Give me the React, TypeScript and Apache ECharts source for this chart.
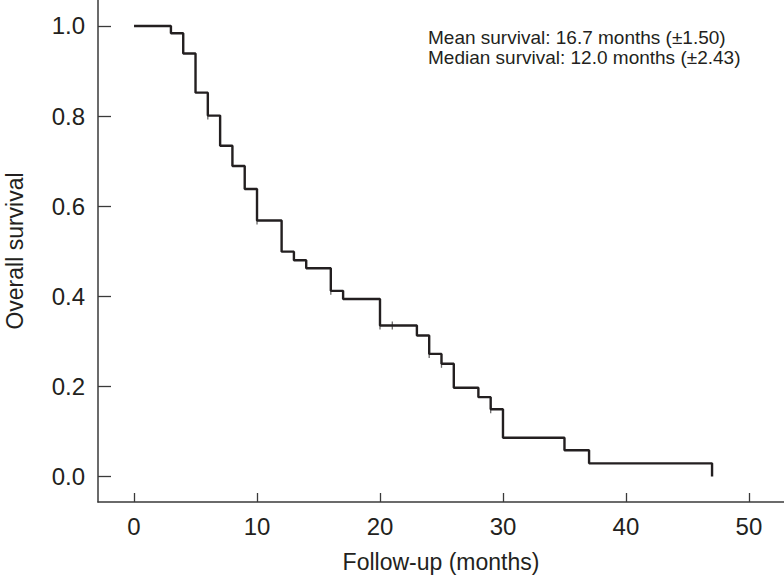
import React, { useEffect, useRef } from "react";
import * as echarts from "echarts";

const times = [0, 3, 4, 5, 6, 7, 8, 9, 10, 12, 13, 14, 16, 17, 20, 23, 24, 25, 26, 28, 29, 30, 35, 37, 47];
const survival = [1.0, 0.984, 0.939, 0.852, 0.801, 0.734, 0.689, 0.638, 0.568, 0.499, 0.48, 0.462, 0.412, 0.394, 0.335, 0.313, 0.272, 0.25, 0.197, 0.176, 0.149, 0.086, 0.058, 0.029, 0.0];
const censorTimes = [6, 10, 16, 20, 21, 24, 25, 29];
const censorValues = [0.801, 0.568, 0.412, 0.335, 0.335, 0.272, 0.25, 0.149];
const xTicks = [0, 10, 20, 30, 40, 50];
const yTicks = [0, 0.2, 0.4, 0.6, 0.8, 1.0];
const annotations = ["Mean survival: 16.7 months (\u00b11.50)", "Median survival: 12.0 months (\u00b12.43)"];

const FONT = "'Liberation Sans', Arial, sans-serif";
const INK = "#231f20";

export default function App() {
  const ref = useRef<HTMLDivElement>(null);
  useEffect(() => {
    if (!ref.current) return;
    const chart = echarts.init(ref.current, undefined, { renderer: "svg" });
    chart.setOption({
      animation: false,
      backgroundColor: "#ffffff",
      grid: { left: 98, right: 0, top: 0, bottom: 80, containLabel: false, outerBoundsMode: "none" },
      xAxis: {
        type: "value",
        min: -2.93,
        max: 52.85,
        name: "Follow-up (months)",
        nameLocation: "middle",
        nameGap: 48,
        nameTextStyle: { fontFamily: FONT, fontSize: 23, color: INK },
        axisLine: { show: true, onZero: false, lineStyle: { color: "#3a3a3a", width: 1.5 } },
        axisTick: { show: true, inside: true, length: 9, customValues: xTicks, lineStyle: { color: "#3a3a3a", width: 1.3 } },
        axisLabel: { customValues: xTicks, margin: 12, fontFamily: FONT, fontSize: 24, color: INK },
        splitLine: { show: false },
      },
      yAxis: {
        type: "value",
        min: -0.0568,
        max: 1.0577,
        name: "Overall survival",
        nameLocation: "middle",
        nameGap: 72,
        nameTextStyle: { fontFamily: FONT, fontSize: 23, color: INK },
        axisLine: { show: true, onZero: false, lineStyle: { color: "#3a3a3a", width: 1.5 } },
        axisTick: { show: true, inside: true, length: 13, customValues: yTicks, lineStyle: { color: "#3a3a3a", width: 1.3 } },
        axisLabel: {
          customValues: yTicks,
          margin: 13,
          fontFamily: FONT,
          fontSize: 24,
          color: INK,
          formatter: (v: number) => v.toFixed(1),
        },
        splitLine: { show: false },
      },
      graphic: annotations.map((t, i) => ({
        type: "text",
        left: 428,
        top: 28 + i * 20,
        style: { text: t, fontFamily: FONT, fontSize: 19, fill: INK },
      })),
      series: [
        {
          type: "line",
          step: "end",
          data: times.map((t, i) => [t, survival[i]]),
          showSymbol: false,
          lineStyle: { color: INK, width: 2.4 },
        },
        {
          type: "scatter",
          data: censorTimes.map((t, i) => [t, censorValues[i]]),
          symbol: "rect",
          symbolSize: [1.3, 8],
          itemStyle: { color: "#444" },
        },
      ],
    });
    return () => chart.dispose();
  }, []);
  return <div ref={ref} style={{ position: "fixed", left: 0, top: 0, width: 784, height: 582 }} />;
}
